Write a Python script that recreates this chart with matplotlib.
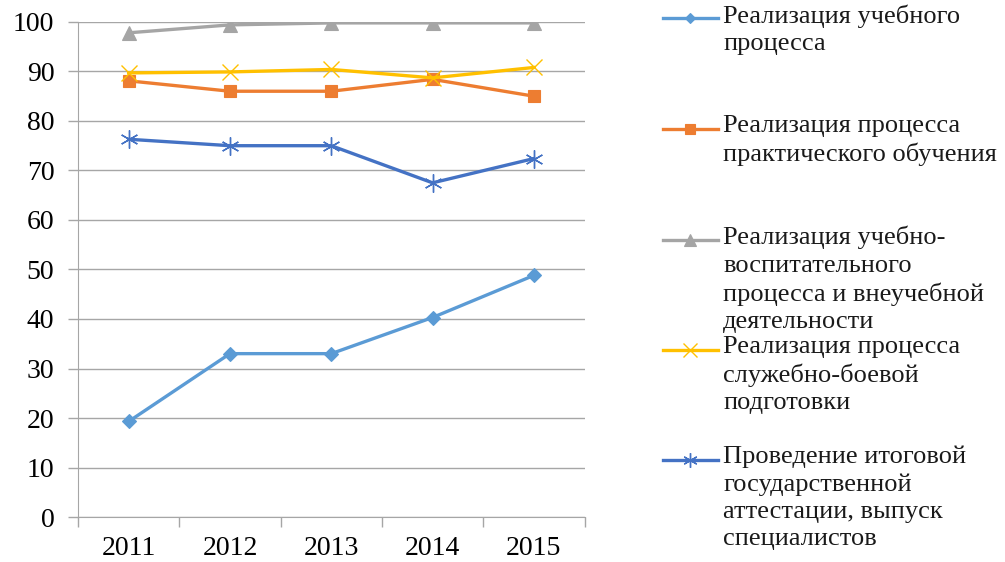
import numpy as np
import matplotlib.pyplot as plt
from matplotlib.lines import Line2D

plt.rcParams['font.family'] = ['Liberation Serif', 'DejaVu Serif']

years = ["2011", "2012", "2013", "2014", "2015"]
uchebny = [19.3, 33, 33, 40.3, 48.8]
praktika = [88.1, 86, 86, 88.4, 85]
vospit = [97.8, 99.4, 99.8, 99.8, 99.8]
sluzhba = [89.7, 89.9, 90.4, 88.7, 90.8]
attest = [76.3, 75, 75, 67.5, 72.4]

labels = [
    "Реализация учебного\nпроцесса",
    "Реализация процесса\nпрактического обучения",
    "Реализация учебно-\nвоспитательного\nпроцесса и внеучебной\nдеятельности",
    "Реализация процесса\nслужебно-боевой\nподготовки",
    "Проведение итоговой\nгосударственной\nаттестации, выпуск\nспециалистов",
]
series = [uchebny, praktika, vospit, sluzhba, attest]
colors = ["#5B9BD5", "#ED7D31", "#A5A5A5", "#FFC000", "#4472C4"]
markers = ["D", "s", "^", "x", (6, 2, 0)]
msizes = [7, 9, 10, 12, 13]
mews = [0.8, 0.8, 0.8, 1.0, 1.0]

fig = plt.figure(figsize=(10.05, 5.62), dpi=100)
ax = fig.add_axes([0.0776, 0.080, 0.504, 0.881])

x = np.arange(len(years))
for vals, c, m, ms, mw in zip(series, colors, markers, msizes, mews):
    ax.plot(x, vals, color=c, lw=2.4, marker=m, ms=ms, mew=mw,
            mec=c, mfc=c, zorder=3)

ax.set_xlim(-0.5, 4.5)
ax.set_ylim(0, 100)
ax.set_yticks(range(0, 101, 10))
ax.set_xticks(x)
ax.set_xticklabels(years)
ax.set_xticks(np.arange(-0.5, 5, 1), minor=True)
ax.tick_params(axis='x', which='major', length=0, pad=14, labelsize=20)
ax.tick_params(axis='x', which='minor', length=7, color='#A6A6A6', width=1)
ax.tick_params(axis='y', length=7, color='#A6A6A6', width=1, labelsize=20, pad=10)
ax.grid(axis='y', color='#A6A6A6', lw=1)
ax.set_axisbelow(True)
for s in ["top", "right"]:
    ax.spines[s].set_visible(False)
ax.spines["left"].set_color('#A6A6A6')
ax.spines["bottom"].set_color('#A6A6A6')

# legend drawn by hand to keep the wrapped text layout
leg_y = [18, 129, 240, 350, 460]
for lab, c, m, ms, mw, yp in zip(labels, colors, markers, msizes, mews, leg_y):
    fy = 1 - yp / 562
    fig.add_artist(Line2D([663 / 1005, 718 / 1005], [fy, fy], transform=fig.transFigure,
                          color=c, lw=2.4))
    fig.add_artist(Line2D([690 / 1005], [fy], transform=fig.transFigure, color=c,
                          marker=m, ms=ms * 0.8, mew=mw, mfc=c, mec=c))
    fig.text(723 / 1005, 1 - (yp - 14) / 562, lab, fontsize=19, va='top', ha='left',
             linespacing=1.3, color='#1a1a1a')

fig.savefig("out.png", dpi=100)
